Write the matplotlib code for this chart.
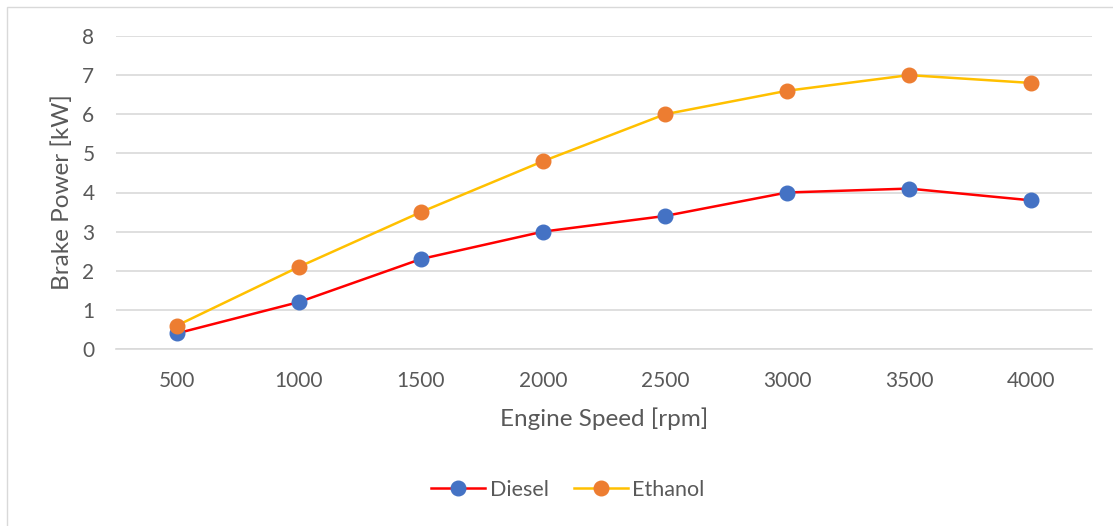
import matplotlib
matplotlib.use("Agg")
import matplotlib.pyplot as plt
from matplotlib.patches import Rectangle

speeds = ["500", "1000", "1500", "2000", "2500", "3000", "3500", "4000"]
diesel = [0.4, 1.2, 2.3, 3.0, 3.4, 4.0, 4.1, 3.8]
ethanol = [0.6, 2.1, 3.5, 4.8, 6.0, 6.6, 7.0, 6.8]
yticks = [0, 1, 2, 3, 4, 5, 6, 7, 8]

plt.rcParams['font.family'] = ['Lato', 'DejaVu Sans']
txt = '#595959'
W, H = 1113, 526
fig = plt.figure(figsize=(W/100, H/100), dpi=100)

# chart frame (cropped at right and bottom)
fig.patches.append(Rectangle((7/W, -0.1), 1.2, 1 - 7/H + 0.1, transform=fig.transFigure,
                             fill=False, edgecolor='#D9D9D9', linewidth=1.0))

ax = fig.add_axes([116/W, 1 - 349/H, (1092-116)/W, (349-36)/H])
x = list(range(len(speeds)))
ax.plot(x, diesel, color='#FF0000', lw=1.8, marker='o', ms=10.5,
        mfc='#4472C4', mec='#4472C4', label='Diesel', zorder=3)
ax.plot(x, ethanol, color='#FFC000', lw=1.8, marker='o', ms=10.5,
        mfc='#ED7D31', mec='#ED7D31', label='Ethanol', zorder=3)

ax.set_xlim(-0.5, len(speeds) - 0.5)
ax.set_ylim(0, 8)
ax.set_yticks(yticks)
ax.set_xticks(x)
ax.set_xticklabels(speeds)
ax.grid(axis='y', color='#D9D9D9', lw=1.2)
ax.set_axisbelow(True)
for s in ax.spines.values():
    s.set_visible(False)
ax.spines['bottom'].set_visible(True)
ax.spines['bottom'].set_color('#D9D9D9')
ax.spines['bottom'].set_linewidth(1.2)
ax.tick_params(axis='both', length=0, labelsize=15, labelcolor=txt)
ax.tick_params(axis='x', pad=15.5)
ax.tick_params(axis='y', pad=15.5)
ax.set_xlabel('Engine Speed [rpm]', fontsize=17.5, color=txt, labelpad=12)
ax.set_ylabel('Brake Power [kW]', fontsize=17.5, color=txt, labelpad=7)

leg = fig.legend(loc='center', bbox_to_anchor=(568/W, 1 - 490/H), ncol=2, frameon=False,
                 fontsize=15.5, handlelength=2.5, columnspacing=1.2, handletextpad=0.2)
for t in leg.get_texts():
    t.set_color(txt)

fig.savefig('out.png', dpi=100)
